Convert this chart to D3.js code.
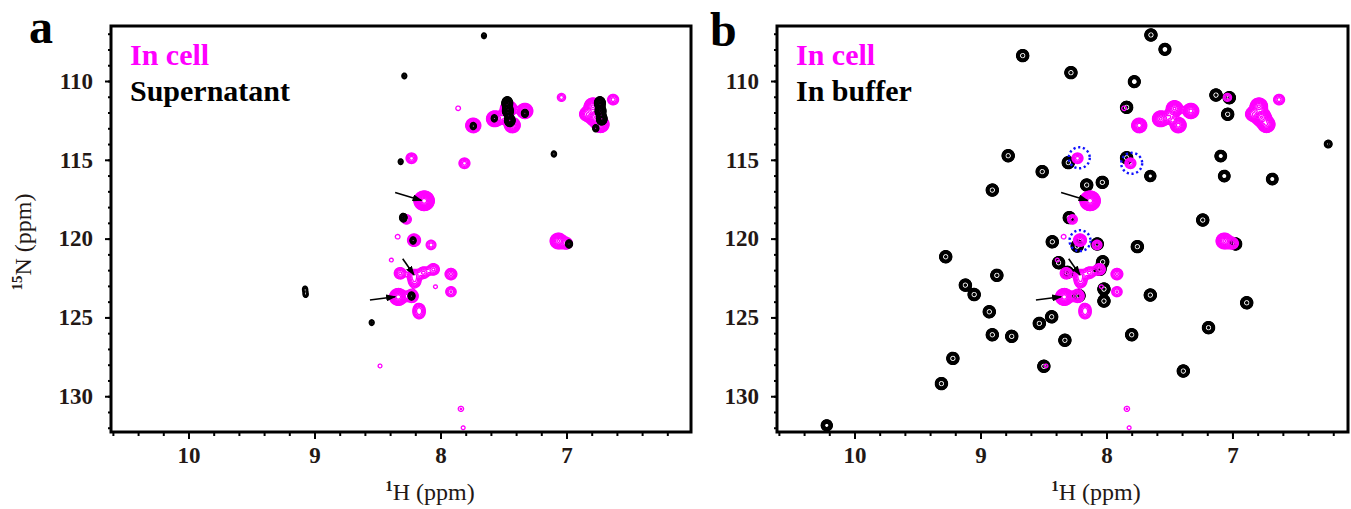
<!DOCTYPE html>
<html>
<head>
<meta charset="utf-8">
<script src="https://cdn.jsdelivr.net/npm/d3@7"></script>
<style>
  html, body { margin: 0; padding: 0; background: #fff; }
  svg text { font-family: "Liberation Serif", "Times New Roman", serif; }
</style>
</head>
<body>
<svg id="chart" width="1351" height="509"></svg>
<script>
// peak lists: [1H ppm, 15N ppm, relative intensity]
const inCellPeaks = [
  [7.86, 111.73, 1.3], [7.74, 112.82, 14], [7.57, 112.40, 22], [7.46, 111.75, 22],
  [7.33, 111.90, 18], [7.43, 112.80, 18], [7.50, 112.30, 6], [7.04, 111.04, 2.2],
  [6.63, 111.18, 4], [6.77, 112.30, 70], [6.79, 111.60, 30], [6.73, 112.75, 28],
  [6.84, 112.10, 10], [8.23, 114.90, 4], [7.81, 115.22, 4], [8.13, 117.60, 120],
  [8.27, 118.78, 3], [8.34, 119.88, 1.3], [8.21, 120.10, 7], [8.075, 120.40, 3],
  [8.39, 121.36, 1.2], [8.32, 122.20, 5], [8.21, 122.35, 7], [8.205, 122.75, 5],
  [8.135, 122.16, 5], [8.056, 121.95, 5], [7.917, 122.25, 5], [8.04, 123.05, 1.2],
  [7.917, 123.37, 3.5], [8.335, 123.70, 35], [8.23, 123.64, 8], [8.17, 124.45, 4],
  [8.17, 124.75, 4], [7.065, 120.15, 22], [7.00, 120.30, 5], [8.48, 128.08, 1.2],
  [7.838, 130.80, 1.4], [7.82, 132.00, 1.2]
];
const supernatantPeaks = [
  [7.655, 107.13, 2], [8.287, 109.68, 2], [8.316, 115.12, 2], [7.10, 114.63, 2.2],
  [7.47, 111.40, 30], [7.465, 111.90, 30], [7.45, 112.50, 25], [7.573, 112.37, 3],
  [7.33, 112.05, 4], [7.74, 112.86, 3], [6.735, 111.40, 30], [6.73, 111.90, 30],
  [6.72, 112.40, 25], [6.768, 113.00, 3], [8.295, 118.67, 5], [8.218, 120.12, 3],
  [8.23, 123.64, 4], [6.98, 120.34, 4], [8.546, 125.33, 2], [9.075, 123.20, 2],
  [9.07, 123.55, 2]
];
const bufferPeaks = [
  [7.647, 107.08, 16], [8.665, 108.39, 16], [7.536, 107.99, 14], [8.282, 109.47, 16],
  [7.779, 110.04, 14], [7.131, 110.89, 16], [7.025, 111.06, 16], [7.84, 111.67, 16],
  [7.038, 112.11, 16], [6.24, 114.00, 3], [8.78, 114.74, 16], [8.51, 115.75, 16],
  [8.303, 115.18, 16], [7.84, 114.87, 16], [7.652, 116.03, 10], [7.093, 114.76, 12],
  [7.065, 116.03, 12], [6.684, 116.22, 12], [8.157, 116.60, 16], [8.033, 116.43, 16],
  [8.906, 116.92, 16], [8.295, 118.67, 16], [7.236, 118.82, 16], [8.43, 120.20, 16],
  [8.232, 120.47, 16], [8.073, 120.34, 16], [7.755, 120.51, 16], [6.975, 120.34, 16],
  [9.276, 121.15, 16], [8.38, 121.53, 16], [8.03, 121.47, 16], [8.311, 122.14, 16],
  [8.052, 121.95, 16], [8.87, 122.33, 16], [9.12, 122.95, 16], [9.05, 123.55, 16],
  [8.218, 123.62, 16], [8.02, 123.20, 16], [8.02, 123.96, 16], [7.652, 123.58, 16],
  [6.887, 124.07, 16], [8.93, 124.64, 16], [8.435, 124.96, 16], [8.533, 125.38, 16],
  [7.19, 125.65, 16], [8.906, 126.10, 16], [8.752, 126.20, 16], [8.33, 126.45, 16],
  [7.80, 126.10, 16], [9.219, 127.60, 16], [8.497, 128.10, 16], [7.39, 128.40, 16],
  [9.31, 129.20, 16], [10.22, 131.85, 10]
];
// arrows (tail -> head) and circled peaks, in ppm
const arrowTails = [[8.36, 117.07], [8.30, 121.28], [8.56, 123.90]];
const arrowHeads = [[8.15, 117.58], [8.21, 122.31], [8.36, 123.69]];
const circledPeaks = [[8.216, 114.87], [7.80, 115.22], [8.21, 120.13]];

const xMajor = [10, 9, 8, 7];
const yMajor = [110, 115, 120, 125, 130];

// linewidths (gaussian sigma, ppm) per spectrum
const lwInCell = [0.026, 0.2];
const lwSuper = [0.016, 0.15];
const lwBuffer = [0.02, 0.16];

// contour levels
const levels = d3.range(0, 20).map(k => Math.pow(1.35, k));
const bufferLevels = [1, 1.3, 1.7, 2.2, 2.9, 3.8, 5, 6.5, 14.5];

const svg = d3.select("#chart");
const defs = svg.append("defs");
defs.append("marker")
  .attr("id", "arrow")
  .attr("viewBox", "0 0 10 7")
  .attr("refX", 9).attr("refY", 3.5)
  .attr("markerUnits", "userSpaceOnUse")
  .attr("markerWidth", 10).attr("markerHeight", 7)
  .attr("orient", "auto")
  .append("path").attr("d", "M0,0 L10,3.5 L0,7 z").attr("fill", "#000");

function contourLayer(g, peaks, lw, thr, x, y, x0, y0, w, h, color, sw) {
  const values = new Float64Array(w * h);
  peaks.forEach(([ph, pn, amp]) => {
    const cx = x(ph) - x0, cy = y(pn) - y0;
    const sx = Math.abs(x(ph + lw[0]) - x(ph));
    const sy = Math.abs(y(pn + lw[1]) - y(pn));
    const rx = sx * 4.5, ry = sy * 4.5;
    const j0 = Math.max(0, Math.floor(cy - ry)), j1 = Math.min(h, Math.ceil(cy + ry));
    const k0 = Math.max(0, Math.floor(cx - rx)), k1 = Math.min(w, Math.ceil(cx + rx));
    for (let j = j0; j < j1; j++) {
      const dy = (j + 0.5 - cy) / sy;
      for (let k = k0; k < k1; k++) {
        const dx = (k + 0.5 - cx) / sx;
        values[j * w + k] += amp * Math.exp(-0.5 * (dx * dx + dy * dy));
      }
    }
  });
  const contours = d3.contours().size([w, h]).thresholds(thr)(values);
  g.append("g")
    .attr("transform", `translate(${x0},${y0})`)
    .selectAll("path")
    .data(contours)
    .join("path")
    .attr("d", d3.geoPath())
    .attr("fill", "none")
    .attr("stroke", color)
    .attr("stroke-width", sw)
    .attr("stroke-linejoin", "round");
}

function drawPanel(i) {
  const left = i ? 777 : 111, right = i ? 1348 : 691;
  const top = 26, bottom = 432;
  const x = d3.scaleLinear().domain([10.615, i ? 6.083 : 6.012]).range([left, right]);
  const y = d3.scaleLinear().domain([106.51, 132.27]).range([top, bottom]);
  const w = right - left, h = bottom - top;

  const clipId = "clip" + i;
  defs.append("clipPath").attr("id", clipId)
    .append("rect").attr("x", left).attr("y", top).attr("width", w).attr("height", h);

  const plot = svg.append("g").attr("clip-path", `url(#${clipId})`);

  if (i) {
    contourLayer(plot, bufferPeaks, lwBuffer, bufferLevels, x, y, left, top, w, h, "#000", 1.5);
    contourLayer(plot, inCellPeaks, lwInCell, levels, x, y, left, top, w, h, "#ff00ff", 1.3);
  } else {
    contourLayer(plot, inCellPeaks, lwInCell, levels, x, y, left, top, w, h, "#ff00ff", 1.3);
    contourLayer(plot, supernatantPeaks, lwSuper, levels, x, y, left, top, w, h, "#000", 1.5);
  }

  if (i) {
    plot.selectAll("circle.mark")
      .data(circledPeaks)
      .join("circle")
      .attr("class", "mark")
      .attr("cx", d => x(d[0]))
      .attr("cy", d => y(d[1]))
      .attr("r", 10.5)
      .attr("fill", "none")
      .attr("stroke", "#1010ff")
      .attr("stroke-width", 2.4)
      .attr("stroke-dasharray", "2.2,2.6");
  }

  plot.selectAll("line.arrow")
    .data(arrowTails)
    .join("line")
    .attr("class", "arrow")
    .attr("x1", d => x(d[0]))
    .attr("y1", d => y(d[1]))
    .attr("x2", (d, k) => x(arrowHeads[k][0]))
    .attr("y2", (d, k) => y(arrowHeads[k][1]))
    .attr("stroke", "#000")
    .attr("stroke-width", 1.6)
    .attr("marker-end", "url(#arrow)");

  // axes
  const xAxis = svg.append("g").attr("transform", `translate(0,${bottom})`);
  xAxis.call(d3.axisBottom(x).tickValues(d3.range(6.2, 10.61, 0.2)).tickSize(4).tickFormat(""));
  xAxis.append("g").call(d3.axisBottom(x).tickValues(xMajor).tickSize(7).tickPadding(8).tickFormat(d3.format("d")));
  const yAxis = svg.append("g").attr("transform", `translate(${left},0)`);
  yAxis.call(d3.axisLeft(y).tickValues(d3.range(107, 133, 1)).tickSize(3).tickFormat(""));
  yAxis.append("g").call(d3.axisLeft(y).tickValues(yMajor).tickSize(6).tickPadding(12).tickFormat(d3.format("d")));

  svg.selectAll(".domain").remove();
  svg.selectAll(".tick line").attr("stroke", "#000").attr("stroke-width", 2);
  svg.selectAll(".tick text")
    .attr("fill", "#231815")
    .style("font-size", "23px")
    .style("font-weight", "bold")
    .style("font-family", '"Liberation Serif", "Times New Roman", serif');

  svg.append("rect")
    .attr("x", left).attr("y", top).attr("width", w).attr("height", h)
    .attr("fill", "none").attr("stroke", "#000").attr("stroke-width", 3);

  // legend
  const legendNames = i ? ["In cell", "In buffer"] : ["In cell", "Supernatant"];
  svg.selectAll(null)
    .data(legendNames)
    .join("text")
    .attr("x", left + 19)
    .attr("y", (d, k) => 65 + k * 36)
    .attr("fill", (d, k) => k ? "#000" : "#ff00ff")
    .style("font-size", "30px")
    .style("font-weight", "bold")
    .text(d => d);

  // panel letter
  svg.append("text")
    .attr("x", i ? 710 : 29)
    .attr("y", i ? 46 : 43)
    .style("font-size", "48px")
    .style("font-weight", "bold")
    .text(i ? "b" : "a");

  // x title
  const xt = svg.append("text")
    .attr("x", left + 319)
    .attr("y", 500)
    .attr("text-anchor", "middle")
    .attr("fill", "#231815")
    .style("font-size", "24px");
  xt.append("tspan").style("font-size", "15px").style("font-weight", "bold").attr("dy", -9).text("1");
  xt.append("tspan").attr("dy", 9).text("H (ppm)");

  if (!i) {
    const yt = svg.append("text")
      .attr("transform", "translate(31,242) rotate(-90)")
      .attr("text-anchor", "middle")
      .attr("fill", "#231815")
      .style("font-size", "24px");
    yt.append("tspan").style("font-size", "15px").style("font-weight", "bold").attr("dy", -9).text("15");
    yt.append("tspan").attr("dy", 9).text("N (ppm)");
  }
}

drawPanel(0);
drawPanel(1);
</script>
</body>
</html>
